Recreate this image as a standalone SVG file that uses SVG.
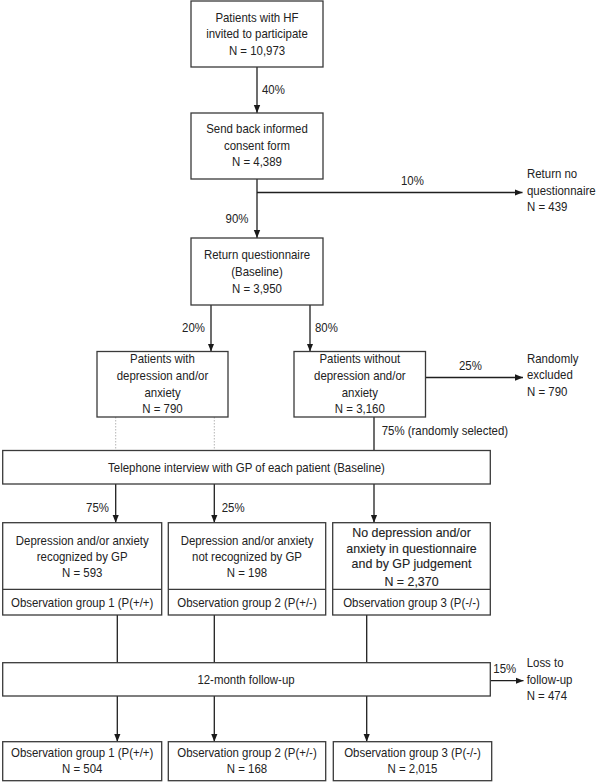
<svg xmlns="http://www.w3.org/2000/svg" width="600" height="782" viewBox="0 0 600 782">
<defs>
<marker id="ah" viewBox="0 0 8 8" refX="8" refY="4" markerWidth="8" markerHeight="8" markerUnits="userSpaceOnUse" orient="auto">
<path d="M0,0.8 L8,4 L0,7.2 Z" fill="#1a1a1a"/>
</marker>
<style>
rect{fill:#fff;stroke:#3a3a3a;stroke-width:1.3}
line{stroke:#1f1f1f;stroke-width:1.3}
.d{stroke:#b5b5b5;stroke-width:1;stroke-dasharray:1.5,1.5}
text{font-family:"Liberation Sans",Arial,sans-serif;font-size:13px;fill:#222;transform-box:fill-box;transform-origin:left center;transform:scaleX(0.88)}
.c{text-anchor:middle;transform-origin:center}
.e{text-anchor:end;transform-origin:right center}
.b{transform:scaleX(0.955);stroke:#222;stroke-width:0.12}
</style>
</defs>
<rect x="0" y="0" width="600" height="782" style="fill:#fff;stroke:none"/>

<g id="connectors">
<line x1="257" y1="67" x2="257" y2="113" marker-end="url(#ah)"/>
<line x1="257" y1="179" x2="257" y2="238" marker-end="url(#ah)"/>
<line x1="257" y1="192.5" x2="522.5" y2="192.5" marker-end="url(#ah)"/>
<line x1="211" y1="305" x2="211" y2="351.5" marker-end="url(#ah)"/>
<line x1="310" y1="305" x2="310" y2="351.5" marker-end="url(#ah)"/>
<line x1="425.5" y1="377.5" x2="523" y2="377.5" marker-end="url(#ah)"/>
<line class="d" x1="115.7" y1="417" x2="115.7" y2="450.5"/>
<line class="d" x1="214.3" y1="417" x2="214.3" y2="450.5"/>
<line x1="374" y1="417" x2="374" y2="450.5"/>
<line x1="115.7" y1="484" x2="115.7" y2="522.7" marker-end="url(#ah)"/>
<line x1="214.3" y1="484" x2="214.3" y2="522.7" marker-end="url(#ah)"/>
<line x1="374" y1="484" x2="374" y2="522.7" marker-end="url(#ah)"/>
<line x1="117.3" y1="615" x2="117.3" y2="662.7"/>
<line x1="214.3" y1="615" x2="214.3" y2="662.7"/>
<line x1="366.7" y1="615" x2="366.7" y2="662.7"/>
<line x1="490.3" y1="680.7" x2="523.5" y2="680.7" marker-end="url(#ah)"/>
<line x1="117.3" y1="696" x2="117.3" y2="741.7" marker-end="url(#ah)"/>
<line x1="214.3" y1="696" x2="214.3" y2="741.7" marker-end="url(#ah)"/>
<line x1="366.7" y1="696" x2="366.7" y2="741.7" marker-end="url(#ah)"/>
<text x="262" y="94">40%</text>
<text x="248.5" y="223.3" class="e">90%</text>
<text x="401" y="185">10%</text>
<text x="205" y="332.5" class="e">20%</text>
<text x="315" y="332.5">80%</text>
<text x="459" y="370">25%</text>
<text x="381.7" y="435">75% (randomly selected)</text>
<text x="109" y="511.7" class="e">75%</text>
<text x="221.7" y="511.7">25%</text>
<text x="493.3" y="672.7">15%</text>
</g>

<g id="n1">
<rect x="191" y="1" width="132" height="66"/>
<text x="257" y="22" class="c">Patients with HF</text>
<text x="257" y="38.5" class="c">invited to participate</text>
<text x="257" y="55" class="c">N = 10,973</text>
</g>
<g id="n2">
<rect x="191" y="113" width="132" height="66"/>
<text x="257" y="133.5" class="c">Send back informed</text>
<text x="257" y="150" class="c">consent form</text>
<text x="257" y="166.5" class="c">N = 4,389</text>
</g>
<g id="n_noq">
<text x="527" y="178.5">Return no</text>
<text x="527" y="195">questionnaire</text>
<text x="527" y="211.5">N = 439</text>
</g>
<g id="n3">
<rect x="191" y="238" width="132" height="67"/>
<text x="257" y="259.5" class="c">Return questionnaire</text>
<text x="257" y="276" class="c">(Baseline)</text>
<text x="257" y="293" class="c">N = 3,950</text>
</g>
<g id="n4">
<rect x="97" y="351.5" width="131" height="65.5"/>
<text x="162.5" y="363.3" class="c">Patients with</text>
<text x="162.5" y="380" class="c">depression and/or</text>
<text x="162.5" y="396.7" class="c">anxiety</text>
<text x="162.5" y="413.3" class="c">N = 790</text>
</g>
<g id="n5">
<rect x="294" y="351.5" width="131.5" height="65.5"/>
<text x="359.8" y="363.3" class="c">Patients without</text>
<text x="359.8" y="380" class="c">depression and/or</text>
<text x="359.8" y="396.7" class="c">anxiety</text>
<text x="359.8" y="413.3" class="c">N = 3,160</text>
</g>
<g id="n_excl">
<text x="527" y="363.3">Randomly</text>
<text x="527" y="379.5">excluded</text>
<text x="527" y="396">N = 790</text>
</g>
<g id="n_tel">
<rect x="2.7" y="450.5" width="487.6" height="33.5"/>
<text x="246.5" y="471.7" class="c">Telephone interview with GP of each patient (Baseline)</text>
</g>
<g id="n6">
<rect x="2.7" y="522.7" width="159" height="92.3"/>
<line x1="2.7" y1="589.3" x2="161.7" y2="589.3" style="stroke:#3a3a3a"/>
<text x="82.2" y="545" class="c">Depression and/or anxiety</text>
<text x="82.2" y="561" class="c">recognized by GP</text>
<text x="82.2" y="577" class="c">N = 593</text>
<text x="82.2" y="606.7" class="c">Observation group 1 (P(+/+)</text>
</g>
<g id="n7">
<rect x="168.3" y="522.7" width="157.4" height="92.3"/>
<line x1="168.3" y1="589.3" x2="325.7" y2="589.3" style="stroke:#3a3a3a"/>
<text x="247" y="545" class="c">Depression and/or anxiety</text>
<text x="247" y="561" class="c">not recognized by GP</text>
<text x="247" y="577" class="c">N = 198</text>
<text x="247" y="606.7" class="c">Observation group 2 (P(+/-)</text>
</g>
<g id="n8">
<rect x="332.7" y="522.7" width="157.6" height="92.3"/>
<line x1="332.7" y1="589.3" x2="490.3" y2="589.3" style="stroke:#3a3a3a"/>
<text x="411.5" y="536.7" class="c b">No depression and/or</text>
<text x="411.5" y="552.7" class="c b">anxiety in questionnaire</text>
<text x="411.5" y="568.5" class="c b">and by GP judgement</text>
<text x="411.5" y="586" class="c b">N = 2,370</text>
<text x="411.5" y="606.7" class="c">Observation group 3 (P(-/-)</text>
</g>
<g id="n_fu">
<rect x="2.7" y="662.7" width="487.6" height="33.3"/>
<text x="246" y="684" class="c">12-month follow-up</text>
</g>
<g id="n_loss">
<text x="526.7" y="667.3">Loss to</text>
<text x="526.7" y="684">follow-up</text>
<text x="526.7" y="700">N = 474</text>
</g>
<g id="n9">
<rect x="2.7" y="741.7" width="159" height="39"/>
<text x="82.2" y="757.3" class="c">Observation group 1 (P(+/+)</text>
<text x="82.2" y="773.3" class="c">N = 504</text>
</g>
<g id="n10">
<rect x="168.3" y="741.7" width="157.4" height="39"/>
<text x="247" y="757.3" class="c">Observation group 2 (P(+/-)</text>
<text x="247" y="773.3" class="c">N = 168</text>
</g>
<g id="n11">
<rect x="333.3" y="741.7" width="158.4" height="39"/>
<text x="412.5" y="757.3" class="c">Observation group 3 (P(-/-)</text>
<text x="412.5" y="773.3" class="c">N = 2,015</text>
</g>
</svg>
